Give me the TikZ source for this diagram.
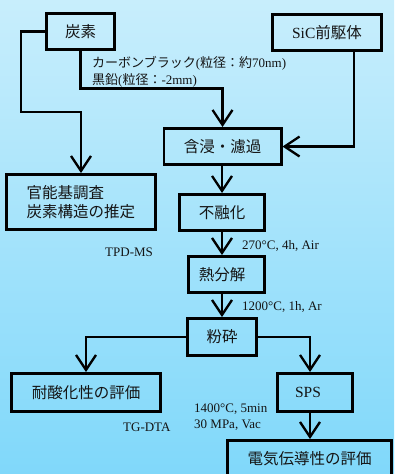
\documentclass[tikz,border=0pt]{standalone}
\usepackage{fontspec}
\setmainfont{Liberation Serif}
\newfontfamily\jp{Noto Sans CJK JP}
\usetikzlibrary{arrows.meta,calc}
\definecolor{bgtop}{RGB}{200,238,252}
\definecolor{bgbot}{RGB}{128,216,250}
\definecolor{ink}{RGB}{20,20,20}
\tikzset{
  box/.style={draw=black, line width=2.6pt, rectangle, inner sep=0pt, text=ink,
    font=\jp\fontsize{15.5}{19}\selectfont},
  lbl/.style={inner sep=0pt, text=ink, anchor=west, font=\fontsize{13}{16}\selectfont},
  arr/.style={line width=2.3pt, -{Straight Barb[length=15pt,width=20pt]}},
  conn/.style={line width=2.3pt}
}
\begin{document}
\begin{tikzpicture}[x=1pt,y=-1pt]
\shade[top color=bgtop, bottom color=bgbot] (0,0) rectangle (394,474);
\useasboundingbox (0,0) rectangle (394,474);
% boxes
\node[box, minimum width=68.4pt, minimum height=36.4pt] (tanso) at (80.5,31.5) {炭素};
\node[box, minimum width=109.4pt, minimum height=36.4pt] (sic) at (327,32.5) {{\rmfamily SiC}前駆体};
\node[box, minimum width=117.4pt, minimum height=36.4pt] (gan) at (222.5,146.5) {含浸・濾過};
\node[box, minimum width=149.4pt, minimum height=55.4pt, align=left] (kan) at (81,202) {官能基調査\\炭素構造の推定};
\node[box, minimum width=85.4pt, minimum height=36.4pt] (fuyu) at (222,212.5) {不融化};
\node[box, minimum width=76.4pt, minimum height=36.4pt] (netsu) at (226.5,274.5) {\hspace*{-9pt}熱分解};
\node[box, minimum width=69.4pt, minimum height=37.4pt] (funsai) at (222,337) {粉砕};
\node[box, minimum width=149.4pt, minimum height=38.4pt] (tai) at (86,392.5) {耐酸化性の評価};
\node[box, minimum width=75.4pt, minimum height=38.4pt] (sps) at (315,392.5) {\hspace*{-14pt}{\rmfamily SPS}};
\node[box, minimum width=164.4pt, minimum height=37.4pt] (denki) at (309.5,459) {電気伝導性の評価};
\coordinate (spsx) at (310,0);
% connectors
\draw[arr] (tanso.west) -- ++(-24,0) -- ++(0,80.5) -| (kan.north);
\draw[arr] (tanso.south) -- ++(0,37.5) -| (gan.north);
\draw[arr] ($(sic.south)+(27,0)$) |- (gan.east);
\draw[arr] (gan.south -| fuyu.north) -- (fuyu.north);
\draw[arr] (fuyu.south) -- (fuyu.south |- netsu.north);
\draw[arr] (funsai.north |- netsu.south) -- (funsai.north);
\draw[arr] (funsai.west) -| (tai.north);
\draw[arr] (funsai.east) -| (spsx |- sps.north);
\draw[arr] (spsx |- sps.south) -- (spsx |- denki.north);
% labels
\node[lbl] (cb) at (92,63) {{\jp カーボンブラック}({\jp 粒径：約}70nm)};
\node[lbl] (gr) at (92,80) {{\jp 黒鉛}({\jp 粒径：}-2mm)};
\node[lbl] (tpd) at (105,252) {TPD-MS};
\node[lbl] (c270) at (242,246) {270°C, 4h, Air};
\node[lbl] (c1200) at (242,307) {1200°C, 1h, Ar};
\node[lbl] (tg) at (123,427) {TG-DTA};
\node[lbl] (c1400) at (194,409) {1400°C, 5min};
\node[lbl] (c30) at (194,425) {30 MPa, Vac};
\end{tikzpicture}
\end{document}
